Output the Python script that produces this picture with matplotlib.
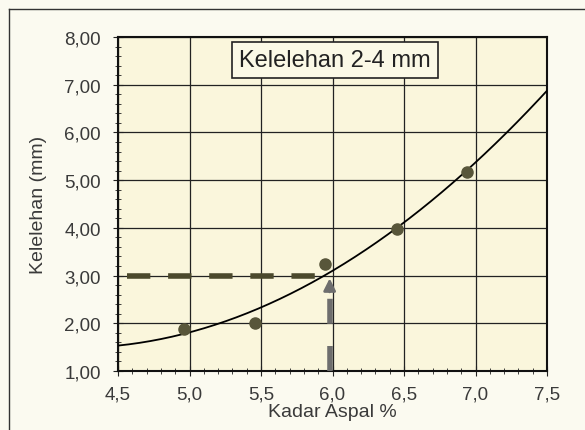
import matplotlib
matplotlib.use("Agg")
import matplotlib.pyplot as plt
from matplotlib.lines import Line2D
from matplotlib.ticker import MultipleLocator, FuncFormatter
import numpy as np

plt.rcParams['font.family'] = ['Liberation Sans', 'DejaVu Sans']

# data
kadar_aspal = [4.96, 5.46, 5.95, 6.45, 6.94]
kelelehan = [1.88, 2.00, 3.24, 3.98, 5.18]
target_flow = 3.0
optimum_aspal = 5.98

xmin, xmax = 4.5, 7.5
ymin, ymax = 1.0, 8.0

fig = plt.figure(figsize=(5.85, 4.31), dpi=100)
fig.patch.set_facecolor('#fbfaf0')
ax = fig.add_axes([118/585, 1-372/431, (547-118)/585, (372-38)/431])
ax.set_facecolor('#faf6dc')

# 2nd order trendline through the points, like excel
coef = np.polyfit(kadar_aspal, kelelehan, 2)
xs = np.linspace(xmin, xmax, 200)
ax.plot(xs, np.polyval(coef, xs), color='black', lw=1.3, zorder=4)
ax.plot(kadar_aspal, kelelehan, 'o', color='#58563a', ms=8, zorder=5)

# reading lines
ax.plot([xmin + 0.06, optimum_aspal - 0.05], [target_flow, target_flow], color='#4b492c',
        lw=4, dashes=(4.2, 3.2), zorder=3)
ax.plot([optimum_aspal, optimum_aspal], [ymin, target_flow - 0.35], color='#6e6e6e',
        lw=4, dashes=(4.5, 4), zorder=3)
ax.annotate('', xy=(optimum_aspal, target_flow), xytext=(optimum_aspal, target_flow - 0.4),
            arrowprops=dict(arrowstyle='-|>', color='#6e6e6e', lw=2, mutation_scale=18), zorder=6)

ax.set_xlim(xmin, xmax)
ax.set_ylim(ymin, ymax)
ax.xaxis.set_major_locator(MultipleLocator(0.5))
ax.xaxis.set_minor_locator(MultipleLocator(0.1))
ax.yaxis.set_major_locator(MultipleLocator(1))
ax.yaxis.set_minor_locator(MultipleLocator(0.2))
ax.xaxis.set_major_formatter(FuncFormatter(lambda v, p: ('%.1f' % v).replace('.', ',')))
ax.yaxis.set_major_formatter(FuncFormatter(lambda v, p: ('%.2f' % v).replace('.', ',')))
ax.grid(True, which='major', color='#222222', lw=0.9)
ax.tick_params(which='both', direction='inout', color='#222222', labelcolor='#3a3a3a',
               labelsize=13.5)
ax.tick_params(which='major', length=7)
ax.tick_params(which='minor', length=4)
ax.tick_params(axis='x', pad=7)
ax.tick_params(axis='y', pad=9)
for s in ax.spines.values():
    s.set_linewidth(1.5)
    s.set_color('#111111')

ax.set_xlabel('Kadar Aspal %', fontsize=14, color='#3a3a3a', labelpad=0)
ax.set_ylabel('Kelelehan (mm)', fontsize=14, color='#3a3a3a', labelpad=12)

ax.text(0.506, 0.93, 'Kelelehan 2-4 mm', transform=ax.transAxes, fontsize=17,
        ha='center', va='center', color='#222222',
        bbox=dict(boxstyle='square,pad=0.3', fc='#fbf9e6', ec='#222222', lw=1.2))

# outer chart frame (top and left edges visible)
fig.add_artist(Line2D([9/585, 9/585], [0, 1-10/431], color='#333333', lw=1, transform=fig.transFigure))
fig.add_artist(Line2D([9/585, 1], [1-10/431, 1-10/431], color='#333333', lw=1, transform=fig.transFigure))

fig.savefig('out.png', dpi=100, facecolor=fig.get_facecolor())
